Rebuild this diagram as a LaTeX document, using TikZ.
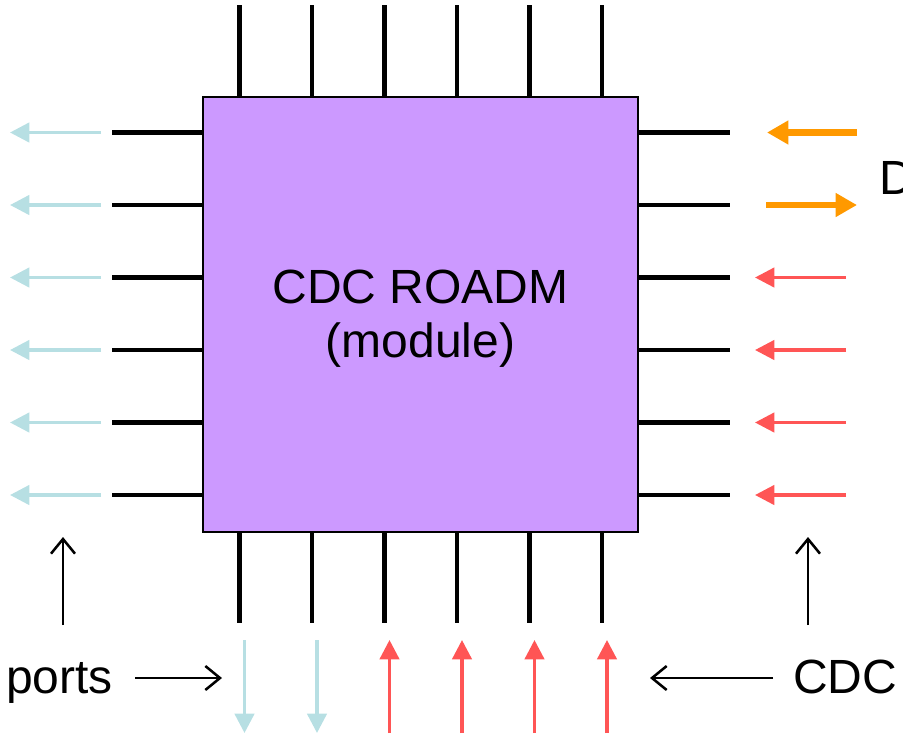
\documentclass[tikz,border=0pt]{standalone}
\usepackage{fontspec}
\setmainfont{Liberation Sans}
\usetikzlibrary{arrows.meta,positioning}
\definecolor{chip}{HTML}{CC99FF}
\definecolor{dropblue}{HTML}{B7DFE3}
\definecolor{addred}{HTML}{FF5555}
\definecolor{trunk}{HTML}{FF9900}
\tikzset{>=Latex,
  every node/.style={font=\fontsize{36}{41}\selectfont,inner sep=0pt},
  chipbox/.style={draw=black,fill=chip,line width=1.5pt,minimum width=326pt,minimum height=326pt},
  pinline/.style={draw=black,line width=3.4pt},
  dropline/.style={-{Triangle[length=14.5pt,width=14.5pt]},draw=dropblue,line width=2.5pt},
  addline/.style={-{Triangle[length=14.5pt,width=14.5pt]},draw=addred,line width=2.5pt},
  trunkline/.style={-{Triangle[length=16pt,width=17pt]},draw=trunk,line width=4.6pt},
  pointer/.style={-{Straight Barb[length=11pt,width=18pt]},draw=black,line width=1.9pt}}
\begin{document}
\begin{tikzpicture}[x=0.75pt,y=-0.75pt]
\useasboundingbox (0,0) rectangle (903,733);
\node[chipbox] (roadm) at (420.5,314.5) {};
\node[anchor=base] (title) at (420.5,303) {CDC ROADM};
\node[anchor=base] (sub) at (420.5,357) {(module)};
\foreach \i in {0,...,5}{
  \coordinate (tb\i) at ({239.5+72.5*\i},97);
  \coordinate (tt\i) at ({239.5+72.5*\i},5);
  \coordinate (bb\i) at ({239.5+72.5*\i},532);
  \coordinate (bt\i) at ({239.5+72.5*\i},623);
  \coordinate (lb\i) at (203,{132.5+72.5*\i});
  \coordinate (lt\i) at (112,{132.5+72.5*\i});
  \coordinate (rb\i) at (638,{132.5+72.5*\i});
  \coordinate (rt\i) at (730,{132.5+72.5*\i});
  \draw[pinline] (tb\i) -- (tt\i);
  \draw[pinline] (bb\i) -- (bt\i);
  \draw[pinline] (lb\i) -- (lt\i);
  \draw[pinline] (rb\i) -- (rt\i);
  \coordinate (ls\i) at (101,{132.5+72.5*\i});
  \coordinate (le\i) at (10,{132.5+72.5*\i});
  \draw[dropline] (ls\i) -- (le\i);
  \coordinate (bu\i) at ({244.5+72.5*\i},640);
  \coordinate (bd\i) at ({244.5+72.5*\i},733);
}
\foreach \i in {0,1}{\draw[dropline] (bu\i) -- (bd\i);}
\foreach \i in {2,...,5}{
  \draw[addline] (bd\i) -- (bu\i);
  \coordinate (rs\i) at (846,{132.5+72.5*\i});
  \coordinate (re\i) at (755,{132.5+72.5*\i});
  \draw[addline] (rs\i) -- (re\i);
}
\coordinate (oa) at (857,132.5);
\coordinate (ob) at (767,132.5);
\coordinate (oc) at (766,205);
\coordinate (od) at (857,205);
\draw[trunkline] (oa) -- (ob);
\draw[trunkline] (oc) -- (od);
\node[anchor=west] (deg) at (879,178) {D};
\node[anchor=base east] (ports) at (113,693) {ports};
\node[anchor=base west] (cdc) at (793,693) {CDC};
\coordinate (pa) at (135,678);
\coordinate (pb) at (222,678);
\coordinate (ca) at (773,678);
\coordinate (cb) at (650,678);
\draw[pointer] (pa) -- (pb);
\draw[pointer] (ca) -- (cb);
\coordinate (ua) at (63,625);
\coordinate (ub) at (63,537);
\coordinate (va) at (808,625);
\coordinate (vb) at (808,537);
\draw[pointer] (ua) -- (ub);
\draw[pointer] (va) -- (vb);
\end{tikzpicture}
\end{document}
